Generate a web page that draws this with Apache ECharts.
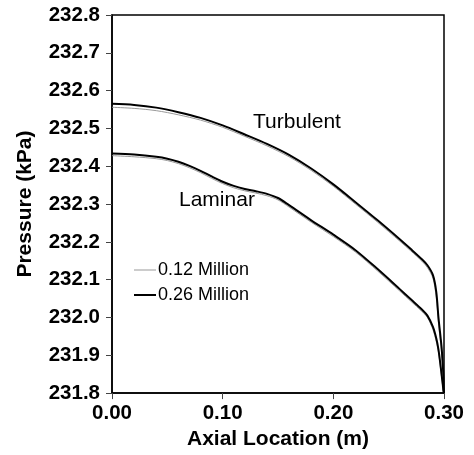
<!DOCTYPE html>
<html>
<head>
<meta charset="utf-8">
<script src="https://cdn.jsdelivr.net/npm/echarts@6/dist/echarts.min.js"></script>
<style>html,body{margin:0;padding:0;background:#fff;}#c{width:474px;height:455px;}</style>
</head>
<body>
<div id="c"></div>
<script>
const turbX = [0, 0.02, 0.04, 0.06, 0.08, 0.10, 0.12, 0.14, 0.16, 0.18, 0.20, 0.22, 0.24, 0.26, 0.27, 0.28, 0.285, 0.29, 0.293, 0.295, 0.297, 0.298, 0.299, 0.2995, 0.300];
const turb026 = [232.565, 232.562, 232.555, 232.543, 232.528, 232.508, 232.484, 232.459, 232.430, 232.394, 232.352, 232.305, 232.257, 232.207, 232.181, 232.154, 232.138, 232.112, 232.068, 232.000, 231.945, 231.915, 231.870, 231.845, 231.800];
const turb012 = [232.556, 232.553, 232.547, 232.536, 232.522, 232.503, 232.479, 232.454, 232.425, 232.389, 232.347, 232.300, 232.252, 232.202, 232.176, 232.149, 232.132, 232.104, 232.053, 231.985, 231.930, 231.900, 231.860, 231.835, 231.800];

const lamX = [0, 0.02, 0.04, 0.05, 0.06, 0.07, 0.08, 0.09, 0.10, 0.11, 0.12, 0.13, 0.14, 0.15, 0.16, 0.18, 0.20, 0.22, 0.24, 0.26, 0.27, 0.28, 0.285, 0.29, 0.293, 0.295, 0.297, 0.298, 0.299, 0.2995, 0.300];
const lam026 = [232.434, 232.431, 232.425, 232.420, 232.412, 232.401, 232.388, 232.373, 232.359, 232.348, 232.340, 232.334, 232.327, 232.316, 232.297, 232.257, 232.219, 232.178, 232.128, 232.075, 232.048, 232.021, 232.005, 231.975, 231.945, 231.915, 231.870, 231.845, 231.820, 231.805, 231.800];
const lam012 = [232.428, 232.425, 232.420, 232.415, 232.407, 232.396, 232.383, 232.368, 232.354, 232.343, 232.335, 232.329, 232.322, 232.311, 232.292, 232.252, 232.214, 232.173, 232.123, 232.070, 232.043, 232.016, 232.000, 231.968, 231.937, 231.908, 231.862, 231.838, 231.815, 231.803, 231.800];

const seriesNames = ['0.12 Million', '0.26 Million'];
const regimeLabels = ['Turbulent', 'Laminar'];
const xTicks = [0, 0.1, 0.2, 0.3];
const yRange = [231.8, 232.8];

const FONT = '"Liberation Sans", Arial, sans-serif';
const pairs = (xs, ys) => xs.map((x, i) => [x, ys[i]]);

const chart = echarts.init(document.getElementById('c'), null, {renderer: 'canvas'});
const gray = {color: '#999999', width: 1};
const black = {color: '#000', width: 2};
const base = {type: 'line', symbol: 'none', smooth: 0.3};
chart.setOption({
  animation: false,
  backgroundColor: '#fff',
  grid: {left: 112, top: 15, right: 30, bottom: 60, show: true, borderColor: '#000', borderWidth: 1.5, backgroundColor: 'transparent'},
  xAxis: {
    type: 'value', min: xTicks[0], max: xTicks[xTicks.length - 1], interval: 0.1,
    name: 'Axial Location (m)', nameLocation: 'middle', nameGap: 33,
    nameTextStyle: {fontFamily: FONT, fontWeight: 'bold', fontSize: 21, color: '#000'},
    axisLine: {lineStyle: {color: '#000', width: 1.5}},
    axisTick: {show: true, inside: false, length: 6, lineStyle: {color: '#444', width: 1}},
    axisLabel: {margin: 10, fontFamily: FONT, fontWeight: 'bold', fontSize: 20.5, color: '#000', formatter: v => v.toFixed(2)},
    splitLine: {show: false}
  },
  yAxis: {
    type: 'value', min: yRange[0], max: yRange[1], interval: 0.1,
    name: 'Pressure (kPa)', nameLocation: 'middle', nameGap: 76,
    nameTextStyle: {fontFamily: FONT, fontWeight: 'bold', fontSize: 21, color: '#000'},
    axisLine: {lineStyle: {color: '#000', width: 1.5}},
    axisTick: {show: true, inside: false, length: 6, lineStyle: {color: '#444', width: 1}},
    axisLabel: {margin: 12, fontFamily: FONT, fontWeight: 'bold', fontSize: 20.5, color: '#000', formatter: v => v.toFixed(1)},
    splitLine: {show: false}
  },
  legend: {
    orient: 'vertical', left: 129, top: 256, itemWidth: 22, itemHeight: 12, itemGap: 7,
    textStyle: {fontFamily: FONT, fontSize: 18, color: '#000', padding: [0, 0, 0, -3]},
    data: [
      {name: seriesNames[0], icon: 'path://M0,0 L22,0 L22,1 L0,1 Z', itemStyle: {color: '#999999'}},
      {name: seriesNames[1], icon: 'path://M0,0 L22,0 L22,2 L0,2 Z', itemStyle: {color: '#000'}}
    ]
  },
  series: [
    Object.assign({name: seriesNames[0], data: pairs(turbX, turb012), lineStyle: gray, itemStyle: {color: gray.color}, z: 2}, base),
    Object.assign({name: seriesNames[1], data: pairs(turbX, turb026), lineStyle: black, itemStyle: {color: '#000'}, z: 3}, base),
    Object.assign({name: seriesNames[0], data: pairs(lamX, lam012), lineStyle: gray, itemStyle: {color: gray.color}, z: 2}, base),
    Object.assign({name: seriesNames[1], data: pairs(lamX, lam026), lineStyle: black, itemStyle: {color: '#000'}, z: 3}, base)
  ],
  graphic: [
    {type: 'text', left: 253, top: 112, style: {text: regimeLabels[0], font: '21px ' + FONT, fill: '#000'}},
    {type: 'text', left: 179, top: 190, style: {text: regimeLabels[1], font: '21px ' + FONT, fill: '#000'}}
  ]
});
</script>
</body>
</html>
